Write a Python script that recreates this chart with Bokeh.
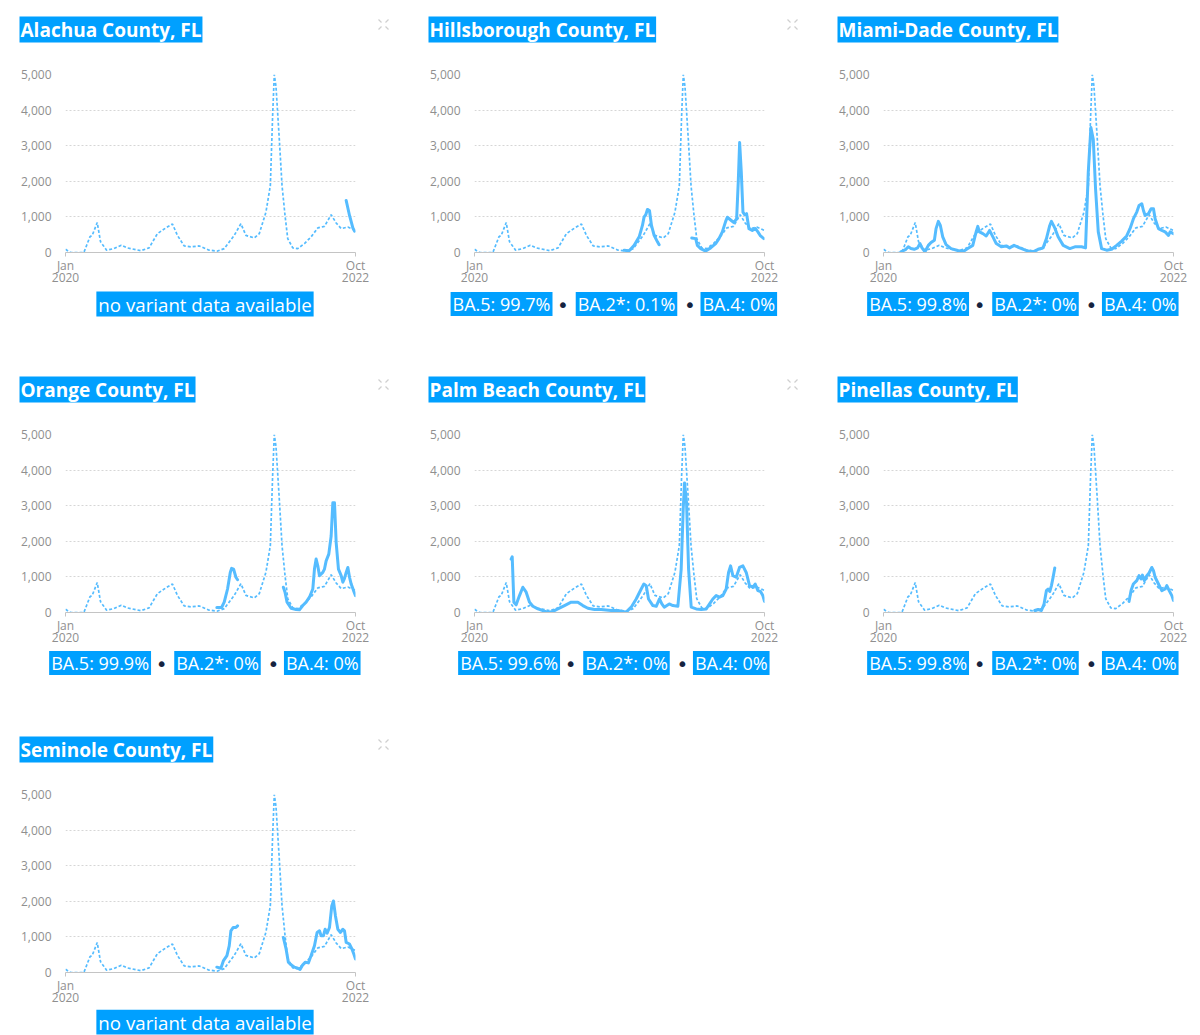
import numpy as np
from bokeh.plotting import figure
from bokeh.layouts import column, row
from bokeh.models import Range1d, FixedTicker, NumeralTickFormatter
from bokeh.core.properties import value
from bokeh.embed import file_html
from bokeh.resources import INLINE

nan = float("nan")

# x values are months since Jan 2020; y values are daily cases (7-day average)
reference_month = [0, 0.57, 2.09, 2.78, 3.04, 3.61, 3.99, 4.68, 5.51, 6.35, 7.03, 8.56,
                   9.51, 10.46, 11.41, 12.17, 12.74, 13.50, 14.26, 15.21, 16.35, 17.30,
                   18.06, 19.20, 19.96, 20.53, 21.48, 22.05, 22.81, 23.31, 23.57, 23.76,
                   23.95, 24.33, 24.64, 24.98, 25.29, 25.86, 26.43, 27.19, 27.95, 28.71,
                   29.47, 30.23, 30.80, 31.37, 32.13, 33.0]
reference_cases = [90, 0, 0, 440, 480, 840, 300, 65, 110, 205, 130, 50,
                   130, 530, 690, 800, 480, 185, 160, 185, 65, 40,
                   110, 480, 810, 480, 410, 530, 1135, 1880, 3840, 5000,
                   4670, 3180, 1880, 1040, 390, 130, 110, 250, 440, 690,
                   735, 1060, 830, 670, 715, 620]

alachua_month = [31.94, 32.32, 32.70, 32.89]
alachua_cases = [1460, 1040, 690, 600]

hillsborough_month = [17.03, 17.60, 18.17, 18.74, 19.11, 19.30, 19.49, 19.68, 19.91, 20.14,
                      20.44, 20.82, 21.01, nan,
                      24.72, 25.17, 25.36, 25.74, 26.31, 26.87, 27.44, 27.82, 28.20, 28.58,
                      28.77, 29.22, 29.52, 29.83, 30.02, 30.17, 30.36, 30.55, 30.74, 30.96,
                      31.23, 31.61, 31.98, 32.25, 32.55, 32.93]
hillsborough_cases = [65, 50, 200, 440, 760, 1000, 1060, 1210, 1180, 760,
                      480, 300, 220, nan,
                      410, 390, 200, 110, 40, 130, 250, 390, 580, 875,
                      990, 900, 840, 950, 2020, 3090, 2250, 1135, 1060, 1090,
                      670, 620, 670, 580, 465, 390]

miami_dade_month = [1.98, 2.55, 2.82, 3.12, 3.50, 3.88, 4.15, 4.38, 4.72, 5.10,
                    5.41, 5.79, 5.98, 6.24, 6.47, 6.74, 7.12, 7.69, 8.45, 9.02,
                    9.59, 10.16, 10.54, 10.73, 10.92, 11.31, 11.69, 12.07, 12.45, 12.83,
                    13.40, 13.97, 14.35, 14.85, 15.49, 16.44, 17.02, 17.59, 18.16, 18.54,
                    18.92, 19.11, 19.49, 19.87, 20.45, 21.20, 21.78, 22.54, 22.99, 23.30,
                    23.60, 23.87, 24.13, 24.44, 24.82, 25.39, 25.96, 26.53, 27.10, 27.67,
                    28.05, 28.44, 28.82, 29.08, 29.39, 29.58, 29.77, 30.15, 30.45, 30.72,
                    30.91, 31.29, 31.67, 32.05, 32.43, 32.62, 33.0]
miami_dade_cases = [20, 90, 160, 110, 90, 130, 250, 130, 20, 200,
                    280, 345, 670, 875, 760, 440, 220, 110, 55, 20,
                    110, 200, 580, 735, 580, 530, 465, 620, 440, 250,
                    160, 185, 130, 200, 130, 40, 20, 90, 130, 390,
                    760, 875, 690, 440, 200, 110, 160, 160, 130, 2250,
                    3510, 3180, 1790, 580, 110, 65, 90, 200, 320, 465,
                    670, 950, 1135, 1320, 1370, 1180, 1040, 1090, 1230, 1230,
                    950, 670, 620, 580, 480, 580, 530]

orange_month = [17.22, 17.76, 18.06, 18.44, 18.75, 18.90, 19.13, 19.39, 19.58, nan,
                24.79, 24.98, 25.21, 25.67, 26.24, 26.62, 27.00, 27.38, 27.76, 28.14,
                28.33, 28.52, 28.71, 28.90, 29.28, 29.47, 29.66, 29.96, 30.23, 30.42,
                30.61, 30.80, 31.06, 31.37, 31.56, 31.75, 31.94, 32.13, 32.32, 32.51,
                32.78, 33.0]
orange_cases = [140, 140, 290, 660, 1125, 1240, 1220, 990, 920, nan,
                710, 570, 290, 120, 85, 75, 195, 290, 430, 660,
                1220, 1500, 1310, 1035, 1125, 1220, 1450, 1640, 2150, 3080,
                3080, 1965, 1220, 1035, 850, 960, 1125, 1265, 990, 800,
                615, 475]

palm_beach_month = [4.17, 4.29, 4.48, 4.74, 5.12, 5.50, 5.88, 6.26, 6.64, 7.21,
                    7.78, 8.35, 8.92, 9.48, 10.24, 11.00, 11.76, 12.33, 12.90, 13.66,
                    14.42, 15.55, 16.31, 17.26, 17.83, 18.40, 18.97, 19.27, 19.54, 19.80,
                    20.30, 20.68, 21.05, 21.32, 21.59, 22.16, 22.57, 23.14, 23.52, 23.75,
                    23.90, 24.13, 24.36, 24.66, 25.23, 25.80, 26.37, 26.75, 27.12, 27.50,
                    27.88, 28.26, 28.64, 28.91, 29.14, 29.40, 29.78, 30.16, 30.54, 30.92,
                    31.30, 31.68, 31.94, 32.25, 32.55, 32.81, 33.0]
palm_beach_cases = [1500, 1565, 290, 215, 475, 710, 570, 290, 175, 100,
                    55, 0, 30, 100, 195, 290, 290, 195, 120, 85,
                    85, 55, 55, 10, 150, 380, 660, 800, 755, 380,
                    195, 175, 380, 240, 150, 240, 195, 175, 1220, 2900,
                    3640, 3080, 1220, 150, 100, 85, 100, 240, 380, 475,
                    430, 475, 660, 1125, 1310, 1035, 990, 1265, 1310, 1125,
                    755, 710, 800, 615, 590, 475, 310]

pinellas_month = [17.21, 17.59, 17.97, 18.27, 18.54, 18.73, 18.92, 19.11, 19.30, 19.49, nan,
                  27.94, 28.17, 28.43, 28.82, 29.08, 29.31, 29.46, 29.69, 29.96, 30.22,
                  30.53, 30.72, 30.91, 31.29, 31.67, 32.05, 32.24, 32.51, 32.81, 33.0]
pinellas_cases = [55, 85, 55, 240, 615, 660, 590, 755, 990, 1250, nan,
                  310, 615, 800, 895, 1035, 940, 1050, 895, 1035, 1110,
                  1265, 1175, 990, 800, 615, 660, 755, 615, 475, 335]

seminole_month = [17.22, 17.68, 17.98, 18.37, 18.63, 18.82, 19.09, 19.39, 19.58, nan,
                  24.79, 25.10, 25.36, 25.67, 26.05, 26.43, 26.69, 27.00, 27.30, 27.64,
                  27.95, 28.33, 28.63, 28.90, 29.09, 29.35, 29.54, 29.77, 30.04, 30.30,
                  30.49, 30.72, 30.99, 31.29, 31.56, 31.75, 31.94, 32.32, 32.59, 32.81,
                  33.0]
seminole_cases = [150, 120, 335, 475, 750, 1170, 1265, 1265, 1310, nan,
                  985, 660, 290, 215, 150, 120, 85, 215, 290, 270,
                  475, 750, 1125, 1170, 1030, 1030, 1215, 1105, 1265, 1870,
                  2010, 1590, 1215, 1125, 1215, 1170, 845, 800, 660, 520,
                  380]

county_names = ["Alachua County, FL", "Hillsborough County, FL", "Miami-Dade County, FL",
                "Orange County, FL", "Palm Beach County, FL", "Pinellas County, FL",
                "Seminole County, FL"]
county_months = [alachua_month, hillsborough_month, miami_dade_month, orange_month,
                 palm_beach_month, pinellas_month, seminole_month]
county_cases = [alachua_cases, hillsborough_cases, miami_dade_cases, orange_cases,
                palm_beach_cases, pinellas_cases, seminole_cases]

variant_names = ["BA.5", "BA.2*", "BA.4"]
variant_shares = [
    None,
    ["99.7%", "0.1%", "0%"],
    ["99.8%", "0%", "0%"],
    ["99.9%", "0%", "0%"],
    ["99.6%", "0%", "0%"],
    ["99.8%", "0%", "0%"],
    None,
]
no_variant_text = "no variant data available"

x_tick_values = [0, 33]
x_tick_labels = ["Jan\n2020", "Oct\n2022"]
y_tick_values = [0, 1000, 2000, 3000, 4000, 5000]

FONT = "Open Sans"
HILITE = "#00a0ff"
LINE = "#55bcff"
DOT = "#152340"
GREY_TEXT = "#8f8f8f"
ICON = "#cfcfcf"

# page geometry (pixels)
PAGE_W = 1200
COL_STEP = 409
COL_WIDTHS = [409, 409, 382]
TITLE_H = 50           # strip holding the county names of one row
CHART_H = 239          # chart figure: 24 px above the frame, 35 px below
CHIP_HEIGHTS = [71, 71, 26]
CHIP_CENTERS = [14.5, 13.5, 12.5]
FRAME_W, FRAME_H = 290, 180
LEFT = 65

# Open Sans regular advance widths (em) for the characters in the variant chips
ADVANCE = {"B": 0.635, "A": 0.633, ".": 0.266, ":": 0.266, " ": 0.26, "%": 0.855,
           "*": 0.547}
for d in "0123456789":
    ADVANCE[d] = 0.572

CHIP_SIZE = 18
CHIP_PAD = 2
CHIP_GAP = 25


def text_width(s, size):
    return sum(ADVANCE.get(c, 0.6) for c in s) * size


def strip(height):
    """A blank full-width figure whose frame is the whole strip, in pixels from top-left."""
    s = figure(width=PAGE_W, height=height, x_range=Range1d(0, PAGE_W),
               y_range=Range1d(height, 0), x_axis_type=None, y_axis_type=None,
               output_backend="svg", toolbar_location=None,
               min_border=0, min_border_left=0, min_border_right=0,
               min_border_top=0, min_border_bottom=0,
               background_fill_color="white", border_fill_color="white",
               outline_line_color=None)
    s.grid.visible = False
    try:
        s.frame_align = False
    except AttributeError:
        pass
    return s


def chip_text(s, xs, ys, texts, align, size=CHIP_SIZE):
    s.text(x=xs, y=ys, text=texts, text_font=value(FONT),
           text_font_size=value(f"{size}px"), text_color="white",
           text_align=value(align), text_baseline=value("middle"),
           background_fill_color=HILITE,
           padding=dict(left=CHIP_PAD, right=CHIP_PAD, top=0, bottom=0))


def title_strip(indices):
    s = strip(TITLE_H)
    xs = [COL_STEP * c + 19 for c in range(len(indices))]
    s.text(x=xs, y=[29] * len(indices), text=[county_names[i] for i in indices],
           text_font=value(FONT), text_font_style=value("bold"),
           text_font_size=value("19px"), text_color="white",
           text_align=value("left"), text_baseline=value("middle"),
           background_fill_color=HILITE,
           padding=dict(left=1, right=1, top=0, bottom=0))
    # expand icon: four short strokes pointing to the corners
    x0, y0, x1, y1 = [], [], [], []
    for c in range(len(indices)):
        cx, cy = COL_STEP * c + 383, 24
        if cx + 6 > PAGE_W:
            continue
        for dx, dy in [(-1, -1), (1, -1), (-1, 1), (1, 1)]:
            x0.append(cx + 2 * dx)
            y0.append(cy + 2 * dy)
            x1.append(cx + 5 * dx)
            y1.append(cy + 5 * dy)
    s.segment(x0=x0, y0=y0, x1=x1, y1=y1, line_color=ICON, line_width=1.2)
    return s


def chip_strip(indices, r):
    s = strip(CHIP_HEIGHTS[r])
    cy = CHIP_CENTERS[r]
    for c, i in enumerate(indices):
        ox = COL_STEP * c
        shares = variant_shares[i]
        if shares is None:
            chip_text(s, [ox + 204.5], [cy], [no_variant_text], "center", size=18.7)
            continue
        chips = [f"{n}: {v}" for n, v in zip(variant_names, shares)]
        mid = ox + 217
        half = text_width(chips[1], CHIP_SIZE) / 2 + CHIP_PAD
        chip_text(s, [mid], [cy], [chips[1]], "center")
        chip_text(s, [mid - half - CHIP_GAP + CHIP_PAD], [cy], [chips[0]], "right")
        chip_text(s, [mid + half + CHIP_GAP - CHIP_PAD], [cy], [chips[2]], "left")
        s.text(x=[mid - half - CHIP_GAP / 2, mid + half + CHIP_GAP / 2], y=[cy + 1, cy + 1],
               text=["•", "•"], text_font=value("DejaVu Sans"),
               text_font_size=value("20px"),
               text_color=DOT, text_align=value("center"), text_baseline=value("middle"))
    return s


def chart(i, width):
    p = figure(width=width, height=CHART_H,
               x_range=Range1d(0, 33), y_range=Range1d(0, 5000),
               output_backend="svg", toolbar_location=None,
               min_border_left=LEFT, min_border_right=width - LEFT - FRAME_W,
               min_border_top=24, min_border_bottom=CHART_H - 24 - FRAME_H,
               background_fill_color="white", border_fill_color="white",
               outline_line_color=None)

    # y axis: labels only, dotted grid
    p.yaxis.ticker = FixedTicker(ticks=y_tick_values)
    p.yaxis.formatter = NumeralTickFormatter(format="0,0")
    p.yaxis.axis_line_color = None
    p.yaxis.major_tick_line_color = None
    p.yaxis.minor_tick_line_color = None
    p.yaxis.major_label_standoff = 8
    p.yaxis.major_label_text_font = FONT
    p.yaxis.major_label_text_font_size = "12px"
    p.yaxis.major_label_text_color = GREY_TEXT

    # x axis: first and last month only
    p.xaxis.ticker = FixedTicker(ticks=x_tick_values)
    p.xaxis.major_label_overrides = dict(zip(x_tick_values, x_tick_labels))
    p.xaxis.axis_line_color = "#c4c4c4"
    p.xaxis.major_tick_line_color = "#c4c4c4"
    p.xaxis.major_tick_in = 0
    p.xaxis.major_tick_out = 4
    p.xaxis.minor_tick_line_color = None
    p.xaxis.major_label_standoff = 0
    p.xaxis.major_label_text_font = FONT
    p.xaxis.major_label_text_font_size = "12px"
    p.xaxis.major_label_text_color = GREY_TEXT
    p.xaxis.major_label_text_line_height = 0.74

    p.xgrid.grid_line_color = None
    p.ygrid.grid_line_color = "#d6d6d6"
    p.ygrid.grid_line_dash = "2 2"

    p.line(np.array(reference_month, dtype=float), np.array(reference_cases, dtype=float),
           line_color=LINE, line_width=1.7, line_dash="3 2")
    p.line(np.array(county_months[i], dtype=float), np.array(county_cases[i], dtype=float),
           line_color=LINE, line_width=3, line_join="round", line_cap="round")
    return p


rows = [[0, 1, 2], [3, 4, 5], [6]]
blocks = []
for r, indices in enumerate(rows):
    blocks.append(title_strip(indices))
    blocks.append(row(*[chart(i, COL_WIDTHS[c]) for c, i in enumerate(indices)]))
    blocks.append(chip_strip(indices, r))

layout = column(*blocks)

open("out.html", "w").write(file_html(layout, INLINE))
